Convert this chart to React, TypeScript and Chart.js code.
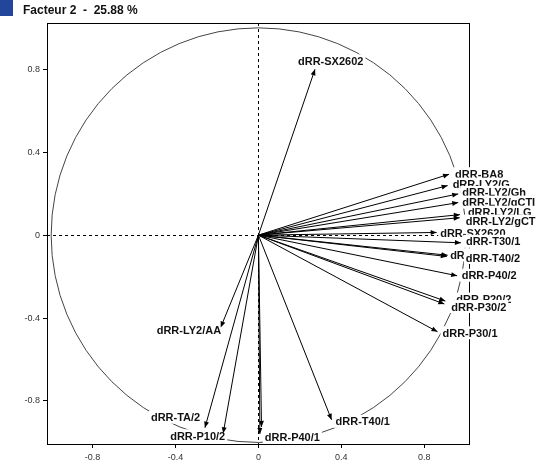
import React, { useEffect, useRef } from "react";
import { Chart, registerables } from "chart.js";

Chart.register(...registerables);

const titleText = "Facteur 2  -  25.88 %";

const variableNames = [
  "dRR-SX2602",
  "dRR-BA8",
  "dRR-LY2/G",
  "dRR-LY2/Gh",
  "dRR-LY2/gCTI",
  "dRR-LY2/LG",
  "dRR-LY2/gCT",
  "dRR-SX2620",
  "dRR-T30/1",
  "dRR-T30/2",
  "dRR-T40/2",
  "dRR-P40/2",
  "dRR-P20/2",
  "dRR-P30/2",
  "dRR-P30/1",
  "dRR-T40/1",
  "dRR-P20/1",
  "dRR-P40/1",
  "dRR-P10/2",
  "dRR-TA/2",
  "dRR-LY2/AA",
];

const xValues = [
  0.273, 0.92, 0.913, 0.964, 0.964, 0.972, 0.971, 0.86, 0.977, 0.913, 0.909,
  0.959, 0.902, 0.897, 0.864, 0.353, 0.015, 0.007, -0.17, -0.258, -0.182,
];

const yValues = [
  0.8, 0.294, 0.239, 0.199, 0.157, 0.099, 0.084, 0.013, -0.037, -0.097, -0.103,
  -0.196, -0.318, -0.332, -0.466, -0.891, -0.925, -0.959, -0.956, -0.929, -0.445,
];

const tickValues = [-0.8, -0.4, 0, 0.4, 0.8];
const tickLabels = ["-0.8", "-0.4", "0", "0.4", "0.8"];

// label placement (pixel offsets from arrow tip: left edge, vertical centre)
const labelOffsets: ([number, number] | null)[] = [
  [-17, -8],
  [6, 0],
  [5, -1],
  [4, -1],
  [4, 0],
  [8, -2],
  [6, 4],
  [3.5, 1.5],
  [5, -1],
  [2.5, 0],
  [19, 1.5],
  [4.5, 0],
  [11, -1.5],
  [7, 3],
  [5, 1.5],
  [4, 2],
  null,
  [5, 3.5],
  [-53, 3],
  [-54, -10],
  [-64, 3],
];

const LABEL_FONT = "bold 11px 'Liberation Sans', Arial, sans-serif";

const decorPlugin = {
  id: "decor",
  beforeDatasetsDraw(chart: any) {
    const { ctx, chartArea, scales } = chart;
    const xs = scales.x;
    const ys = scales.y;
    const x0 = xs.getPixelForValue(0);
    const y0 = ys.getPixelForValue(0);
    ctx.save();
    // frame
    ctx.strokeStyle = "#000";
    ctx.lineWidth = 1;
    ctx.strokeRect(
      Math.round(chartArea.left) + 0.5,
      Math.round(chartArea.top) + 0.5,
      Math.round(chartArea.right - chartArea.left),
      Math.round(chartArea.bottom - chartArea.top)
    );
    // zero lines
    ctx.setLineDash([3, 3]);
    ctx.beginPath();
    ctx.moveTo(chartArea.left, Math.round(y0) + 0.5);
    ctx.lineTo(chartArea.right, Math.round(y0) + 0.5);
    ctx.moveTo(Math.round(x0) + 0.5, chartArea.top);
    ctx.lineTo(Math.round(x0) + 0.5, chartArea.bottom);
    ctx.stroke();
    ctx.setLineDash([]);
    // correlation circle
    const rx = xs.getPixelForValue(1) - x0;
    const ry = y0 - ys.getPixelForValue(1);
    ctx.strokeStyle = "#444";
    ctx.beginPath();
    ctx.ellipse(x0, y0, rx, ry, 0, 0, Math.PI * 2);
    ctx.stroke();
    ctx.restore();
  },
  afterDatasetsDraw(chart: any) {
    const { ctx, scales } = chart;
    const xs = scales.x;
    const ys = scales.y;
    const x0 = xs.getPixelForValue(0);
    const y0 = ys.getPixelForValue(0);
    ctx.save();
    // labels (white boxes hide what lies beneath, as in the original)
    ctx.font = LABEL_FONT;
    ctx.textBaseline = "middle";
    ctx.textAlign = "left";
    variableNames.forEach((name, i) => {
      const off = labelOffsets[i];
      if (!off) return;
      const tx = xs.getPixelForValue(xValues[i]);
      const ty = ys.getPixelForValue(yValues[i]);
      const lx = tx + off[0];
      const ly = ty + off[1];
      const w = ctx.measureText(name).width;
      ctx.fillStyle = "#fff";
      ctx.fillRect(lx - 2, ly - 7, w + 4, 13);
      ctx.fillStyle = "#111";
      ctx.fillText(name, lx, ly + 0.5);
    });
    // arrow heads
    ctx.fillStyle = "#000";
    variableNames.forEach((_, i) => {
      const tx = xs.getPixelForValue(xValues[i]);
      const ty = ys.getPixelForValue(yValues[i]);
      const ang = Math.atan2(ty - y0, tx - x0);
      const len = 6;
      const hw = 2.5;
      const bx = tx - Math.cos(ang) * len;
      const by = ty - Math.sin(ang) * len;
      ctx.beginPath();
      ctx.moveTo(tx, ty);
      ctx.lineTo(bx - Math.sin(ang) * hw, by + Math.cos(ang) * hw);
      ctx.lineTo(bx + Math.sin(ang) * hw, by - Math.cos(ang) * hw);
      ctx.closePath();
      ctx.fill();
    });
    ctx.restore();
  },
  afterDraw(chart: any) {
    const { ctx } = chart;
    ctx.save();
    ctx.fillStyle = "#22469a";
    ctx.fillRect(0, 0, 13, 16);
    ctx.fillStyle = "#111";
    ctx.font = "bold 12px 'Liberation Sans', Arial, sans-serif";
    ctx.textBaseline = "alphabetic";
    ctx.textAlign = "left";
    ctx.fillText(titleText, 23, 13.5);
    ctx.restore();
  },
};

export default function App() {
  const ref = useRef<HTMLCanvasElement>(null);
  useEffect(() => {
    const canvas = ref.current;
    if (!canvas) return;
    const datasets = variableNames.map((name, i) => ({
      label: name,
      data: [
        { x: 0, y: 0 },
        { x: xValues[i], y: yValues[i] },
      ],
      showLine: true,
      borderColor: "#000",
      borderWidth: 1,
      pointRadius: 0,
      pointHoverRadius: 0,
      fill: false,
    }));
    const tickFont = { family: "'Liberation Sans', Arial, sans-serif", size: 9 };
    const chart = new Chart(canvas, {
      type: "scatter",
      data: { datasets },
      options: {
        responsive: false,
        animation: false,
        devicePixelRatio: 1,
        events: [],
        layout: { padding: { left: 0, top: 23, right: 73, bottom: 0 } },
        plugins: {
          legend: { display: false },
          tooltip: { enabled: false },
          title: { display: false },
        },
        scales: {
          x: {
            type: "linear",
            min: -1.02,
            max: 1.016,
            afterBuildTicks: (s: any) => {
              s.ticks = tickValues.map((v) => ({ value: v }));
            },
            afterFit: (s: any) => {
              s.height = 21;
            },
            grid: {
              display: true,
              drawOnChartArea: false,
              drawTicks: true,
              tickLength: 4,
              color: "#000",
            },
            border: { display: false },
            ticks: {
              font: tickFont,
              color: "#333",
              padding: 4,
              maxRotation: 0,
              autoSkip: false,
              callback: (_v: any, idx: number) => tickLabels[idx],
            },
          },
          y: {
            type: "linear",
            min: -1.0075,
            max: 1.0234,
            afterBuildTicks: (s: any) => {
              s.ticks = tickValues.map((v) => ({ value: v }));
            },
            afterFit: (s: any) => {
              s.width = 47;
            },
            grid: {
              display: true,
              drawOnChartArea: false,
              drawTicks: true,
              tickLength: 4,
              color: "#000",
            },
            border: { display: false },
            ticks: {
              font: tickFont,
              color: "#333",
              padding: 3,
              autoSkip: false,
              callback: (_v: any, idx: number) => tickLabels[idx],
            },
          },
        },
      } as any,
      plugins: [decorPlugin],
    });
    return () => chart.destroy();
  }, []);

  return (
    <div style={{ position: "absolute", left: 0, top: 0, width: 542, height: 465, background: "#fff" }}>
      <canvas ref={ref} width={542} height={465} style={{ display: "block", width: 542, height: 465 }} />
    </div>
  );
}
